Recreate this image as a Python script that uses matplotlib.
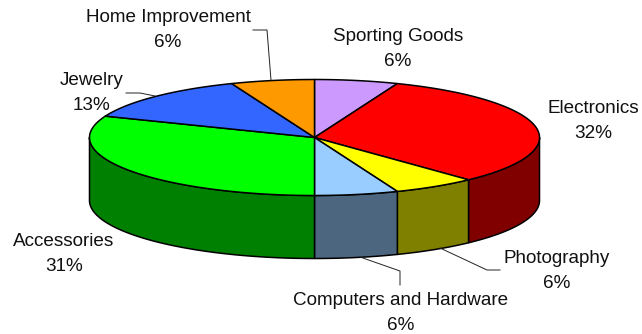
import numpy as np
import matplotlib
matplotlib.use("Agg")
import matplotlib.pyplot as plt
from matplotlib.patches import Polygon

categories = ["Sporting Goods", "Electronics", "Photography", "Computers and Hardware",
              "Accessories", "Jewelry", "Home Improvement"]
shares = [6, 32, 6, 6, 31, 13, 6]
top_colors = ["#CC99FF", "#FF0000", "#FFFF00", "#99CCFF", "#00FF00", "#3366FF", "#FF9900"]
side_colors = ["#664C80", "#800000", "#808000", "#4D6680", "#008000", "#1A3380", "#804C00"]

# label centres, in pixels
label_x = [398, 593, 557, 401, 64, 92, 168]
label_y = [49, 121, 271, 313, 254, 93, 30]

# leader lines for the labels that sit away from their slice
leaders = [
    ([253, 267, 271], [30, 30, 80]),
    ([126, 140, 155], [93, 93, 96]),
    ([500, 487, 440], [270, 270, 248]),
    ([400, 400, 360], [285, 271, 257]),
]

CX, CY = 314.5, 137.5
RX, RY = 225, 58
DEPTH = 63


def rim(start, end, drop=0.0):
    """Points along the ellipse, angles in degrees clockwise from 12 o'clock."""
    n = max(int(abs(end - start)) * 2, 2)
    t = np.radians(np.linspace(start, end, n))
    return np.column_stack([CX + RX * np.sin(t), CY - RY * np.cos(t) + drop])


fig = plt.figure(figsize=(6.42, 3.34), dpi=100)
ax = fig.add_axes([0, 0, 1, 1])
ax.set_xlim(0, 642)
ax.set_ylim(334, 0)
ax.axis("off")

edges = np.concatenate([[0], np.cumsum(shares)]) * 3.6

# outer wall, only the part of each slice on the front half of the disc
for i in range(len(shares)):
    a = max(edges[i], 90)
    b = min(edges[i + 1], 270)
    if a >= b:
        continue
    wall = np.vstack([rim(a, b), rim(b, a, DEPTH)])
    ax.add_patch(Polygon(wall, closed=True, facecolor=side_colors[i],
                         edgecolor="black", linewidth=1.1, joinstyle="round"))

# top face
for i in range(len(shares)):
    pts = np.vstack([[CX, CY], rim(edges[i], edges[i + 1])])
    ax.add_patch(Polygon(pts, closed=True, facecolor=top_colors[i],
                         edgecolor="black", linewidth=1.1, joinstyle="round"))

for xs, ys in leaders:
    ax.plot(xs, ys, color="#222222", linewidth=0.7, solid_joinstyle="miter")

for name, val, x, y in zip(categories, shares, label_x, label_y):
    ax.text(x, y, f"{name}\n{val}%", ha="center", va="center", fontsize=13.6,
            family="Liberation Sans", color="#111111", linespacing=1.6)

fig.savefig("out.png", dpi=100, facecolor="white")
